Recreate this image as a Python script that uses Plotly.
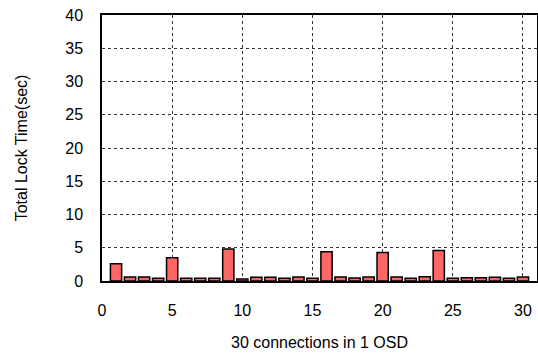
import plotly.graph_objects as go

connections = list(range(1, 31))
lock_time = [2.6, 0.6, 0.6, 0.4, 3.5, 0.4, 0.4, 0.4, 4.8, 0.3,
             0.55, 0.55, 0.4, 0.6, 0.4, 4.4, 0.6, 0.45, 0.6, 4.3,
             0.6, 0.4, 0.65, 4.6, 0.4, 0.5, 0.5, 0.55, 0.4, 0.6]

x_ticks = [0, 5, 10, 15, 20, 25, 30]
y_ticks = [0, 5, 10, 15, 20, 25, 30, 35, 40]

font_family = "Liberation Sans, Arial, sans-serif"

fig = go.Figure()
fig.add_trace(go.Bar(
    x=connections, y=lock_time, width=0.8,
    marker=dict(color="#ff6666", line=dict(color="black", width=1.5)),
))

fig.update_layout(
    width=538, height=356,
    margin=dict(l=102, r=1, t=15, b=75),
    paper_bgcolor="white", plot_bgcolor="white",
    showlegend=False,
    font=dict(family=font_family, size=16, color="black"),
)
fig.update_xaxes(
    range=[0, 31], tickvals=x_ticks, ticks="", ticklabelstandoff=14,
    showgrid=True, gridcolor="#333333", griddash="dot", gridwidth=1,
    showline=True, linecolor="black", linewidth=1.5, mirror=True,
    zeroline=False, automargin=False,
    title=dict(text="30 connections in 1 OSD", font=dict(size=16), standoff=19),
)
fig.update_yaxes(
    range=[0, 40], tickvals=y_ticks, ticks="", ticklabelstandoff=14,
    showgrid=True, gridcolor="#333333", griddash="dot", gridwidth=1,
    showline=True, linecolor="black", linewidth=1.5, mirror=True,
    zeroline=False, automargin=False,
    title=dict(text="Total Lock Time(sec)", font=dict(size=16), standoff=34),
)

fig.write_html(
    "out.html",
    config={"displayModeBar": False},
    post_script="document.body.style.margin='0';document.body.style.overflow='hidden';",
)
